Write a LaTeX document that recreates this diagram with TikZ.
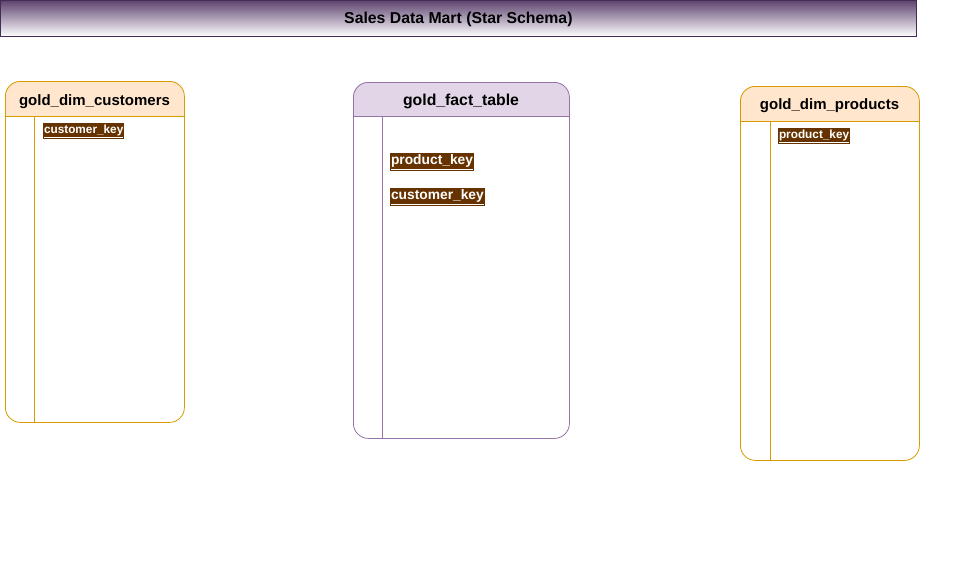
\documentclass[tikz,border=0pt]{standalone}
\usepackage{fontspec}
\setmainfont{Liberation Sans}
\definecolor{dimfill}{HTML}{FFE6CC}
\definecolor{dimline}{HTML}{D79B00}
\definecolor{factfill}{HTML}{E1D5E7}
\definecolor{factline}{HTML}{9673A6}
\definecolor{keybg}{HTML}{663300}
\definecolor{titletop}{HTML}{5E4470}
\definecolor{titleline}{HTML}{432D57}
\begin{document}
\begin{tikzpicture}[x=1pt,y=-1pt,
  tablebox/.style={draw=#1, line width=0.8, rounded corners=15, anchor=north west, inner sep=0},
  headtext/.style={font=\fontsize{15}{17}\selectfont\bfseries, anchor=center},
  keytag/.style={fill=keybg, text=white, inner xsep=0.8, inner ysep=1.6, anchor=north west, font=\bfseries}]
\useasboundingbox (0,0) rectangle (966,560);
% title
\node[draw=titleline, line width=0.8, top color=titletop, bottom color=white, minimum width=916, minimum height=36, anchor=north west, inner sep=0] (title) at (0,0) {};
\node[font=\fontsize{15.8}{17}\selectfont\bfseries] (titletext) at ([yshift=-1]title.center) {Sales Data Mart (Star Schema)};
% customers
\begin{scope}
\clip (5,81) rectangle (184,116);
\fill[dimfill, rounded corners=15] (5,81) rectangle (184,422);
\end{scope}
\node[tablebox=dimline, minimum width=179, minimum height=341] (cust) at (5,81) {};
\draw[dimline, line width=0.8] (5,116) -- (184,116);
\draw[dimline, line width=0.8] (34,116) -- (34,422);
\node[headtext] (custhead) at (94.5,101.5) {gold\_dim\_customers};
\node[keytag, font=\fontsize{11.8}{13}\selectfont\bfseries] (custkey) at (43,123) {\underline{customer\_key}};
% fact
\begin{scope}
\clip (353,82) rectangle (569,116);
\fill[factfill, rounded corners=15] (353,82) rectangle (569,438);
\end{scope}
\node[tablebox=factline, minimum width=216, minimum height=356] (fact) at (353,82) {};
\draw[factline, line width=0.8] (353,116) -- (569,116);
\draw[factline, line width=0.8] (382,116) -- (382,438);
\node[headtext, font=\fontsize{15.8}{17}\selectfont\bfseries] (facthead) at (461,101.5) {gold\_fact\_table};
\node[keytag, font=\fontsize{13.8}{15}\selectfont\bfseries] (factpk) at (390,153) {\underline{product\_key}};
\node[keytag, font=\fontsize{13.8}{15}\selectfont\bfseries] (factck) at (390,188) {\underline{customer\_key}};
% products
\begin{scope}
\clip (740,86) rectangle (919,121);
\fill[dimfill, rounded corners=15] (740,86) rectangle (919,460);
\end{scope}
\node[tablebox=dimline, minimum width=179, minimum height=374] (prod) at (740,86) {};
\draw[dimline, line width=0.8] (740,121) -- (919,121);
\draw[dimline, line width=0.8] (770,121) -- (770,460);
\node[headtext] (prodhead) at (829.5,105.5) {gold\_dim\_products};
\node[keytag, font=\fontsize{11.8}{13}\selectfont\bfseries] (prodkey) at (778,128) {\underline{product\_key}};
\end{tikzpicture}
\end{document}
